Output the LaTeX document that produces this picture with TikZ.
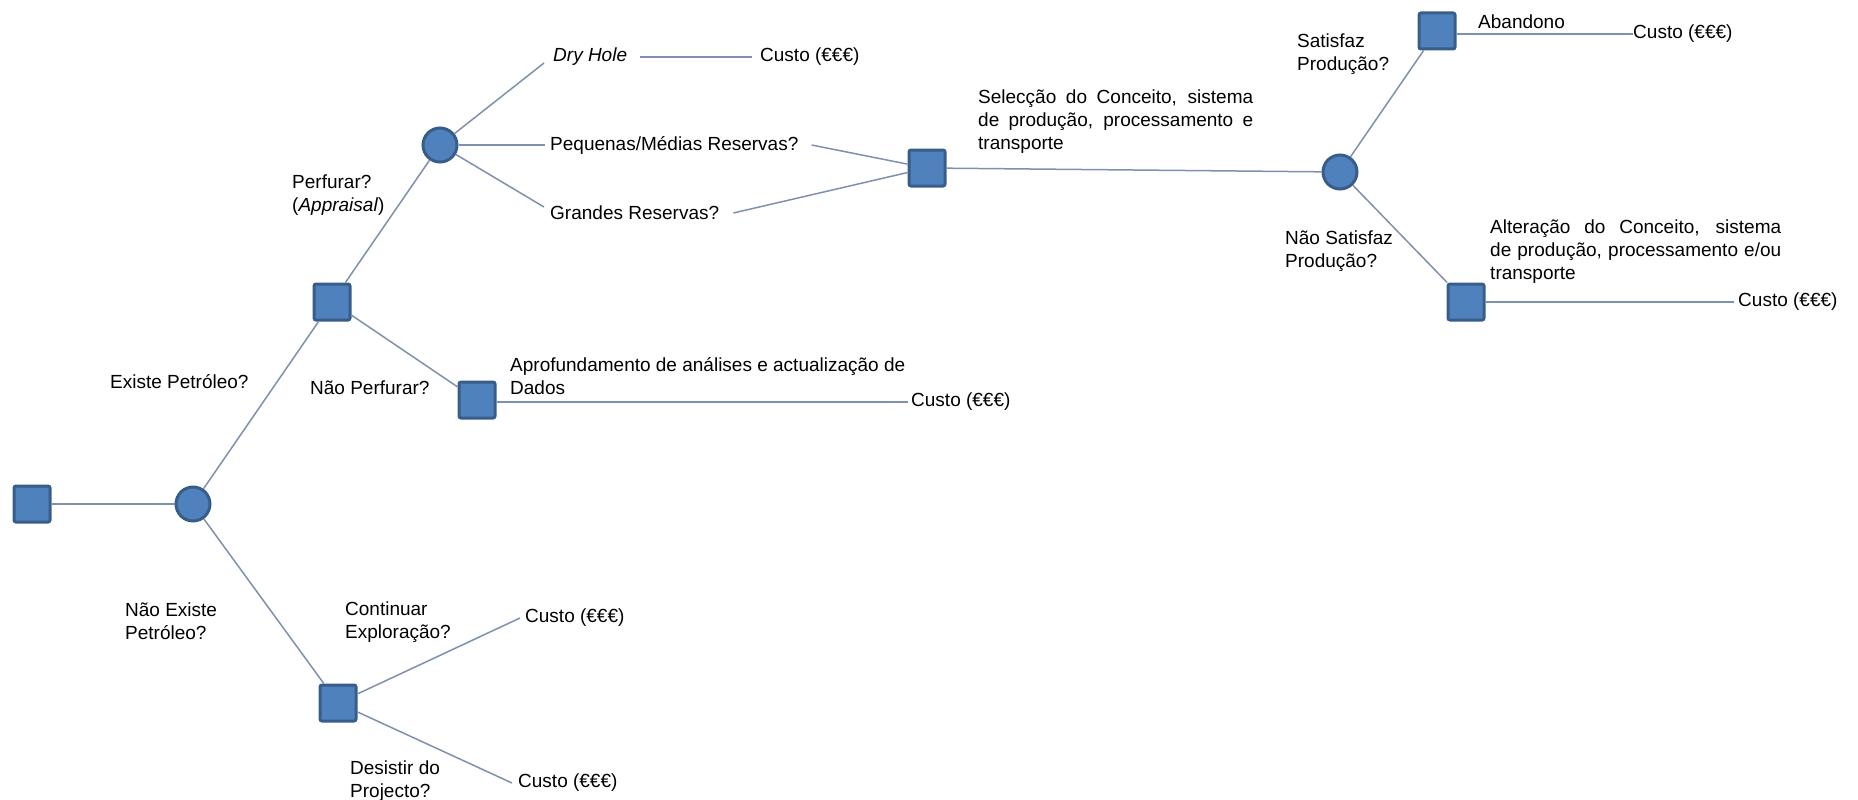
\documentclass[tikz,border=0pt]{standalone}
\usepackage{fontspec}
\setmainfont{Liberation Sans}
\definecolor{nfill}{HTML}{4F81BD}
\definecolor{nline}{HTML}{385D8A}
\definecolor{connc}{RGB}{125,145,175}
\begin{document}
\begin{tikzpicture}[x=1pt,y=-1pt,
  sq/.style={rectangle,draw=nline,fill=nfill,line width=3pt,minimum size=36pt,inner sep=0pt,rounded corners=2pt},
  cir/.style={circle,draw=nline,fill=nfill,line width=3pt,minimum size=34pt,inner sep=0pt},
  lbl/.style={anchor=west,inner xsep=0pt,inner ysep=1pt,align=left,font=\fontsize{19pt}{23pt}\selectfont},
  conn/.style={draw=connc,line width=1.5pt}]
\useasboundingbox (0,0) rectangle (1858,800);

% decision / chance nodes
\node[sq]  (s0) at (32,504) {};
\node[cir] (c1) at (193,504) {};
\node[sq]  (sA) at (332,302) {};
\node[cir] (c2) at (440,145) {};
\node[sq]  (sB) at (477,400) {};
\node[sq]  (sC) at (338,703) {};
\node[sq]  (sM) at (927,168) {};
\node[cir] (c3) at (1340,172) {};
\node[sq]  (sT) at (1437,31) {};
\node[sq]  (sR) at (1466,302) {};

% labels
\node[lbl] (tEx)   at (110,382) {Existe Petróleo?};
\node[lbl] (tNEx)  at (125,621) {Não Existe\\Petróleo?};
\node[lbl] (tPerf) at (292,195) {Perfurar?\\(\textit{Appraisal})};
\node[lbl] (tNPerf) at (310,388) {Não Perfurar?};
\node[lbl] (tDry)  at (553,57) {\textit{Dry Hole}};
\node[lbl] (cDry)  at (760,57) {Custo (€€€)};
\node[lbl] (tPeq)  at (550,145) {Pequenas/Médias Reservas?};
\node[lbl] (tGr)   at (550,213) {Grandes Reservas?};
\node[lbl] (tSel)  at (978,122) {\makebox[275pt][s]{Selecção do Conceito, sistema}\\\makebox[275pt][s]{de produção, processamento e}\\transporte};
\node[lbl] (tSat)  at (1297,54) {Satisfaz\\Produção?};
\node[lbl] (tAb)   at (1478,22) {Abandono};
\node[lbl] (cAb)   at (1633,34) {Custo (€€€)};
\node[lbl] (tNSat) at (1285,251) {Não Satisfaz\\Produção?};
\node[lbl] (tAlt)  at (1490,252) {\makebox[291pt][s]{Alteração do Conceito, sistema}\\\makebox[291pt][s]{de produção, processamento e/ou}\\transporte};
\node[lbl] (cAlt)  at (1738,302) {Custo (€€€)};
\node[lbl] (tApr)  at (510,376) {Aprofundamento de análises e actualização de\\Dados};
\node[lbl] (cApr)  at (911,402) {Custo (€€€)};
\node[lbl] (tCont) at (345,622) {Continuar\\Exploração?};
\node[lbl] (cCont) at (525,618) {Custo (€€€)};
\node[lbl] (tDes)  at (350,781) {Desistir do\\Projecto?};
\node[lbl] (cDes)  at (518,783) {Custo (€€€)};

% connectors
\draw[conn] (s0) -- (c1);
\draw[conn] (c1) -- (sA);
\draw[conn] (c1) -- (sC);
\draw[conn] (sA) -- (c2);
\draw[conn] (sA) -- (sB);
\draw[conn] (c2) -- ([shift={(-9,6)}]tDry.west);
\draw[conn] ([xshift=13]tDry.east) -- ([xshift=-8]cDry.west);
\draw[conn] (c2) -- ([xshift=-5]tPeq.west);
\draw[conn] (c2) -- ([shift={(-6,-6)}]tGr.west);
\draw[conn] ([xshift=13]tPeq.east) -- (sM);
\draw[conn] ([xshift=14]tGr.east) -- (sM);
\draw[conn] (sM) -- (c3);
\draw[conn] (c3) -- (sT);
\draw[conn] (c3) -- (sR);
\draw[conn] (sT.east |- cAb.west) -- (cAb.west);
\draw[conn] (sR) -- ([xshift=-4]cAlt.west);
\draw[conn] (sB.east |- cApr.west) -- ([xshift=-3]cApr.west);
\draw[conn] (sC) -- ([xshift=-5]cCont.west);
\draw[conn] (sC) -- ([xshift=-6]cDes.west);
\end{tikzpicture}
\end{document}
